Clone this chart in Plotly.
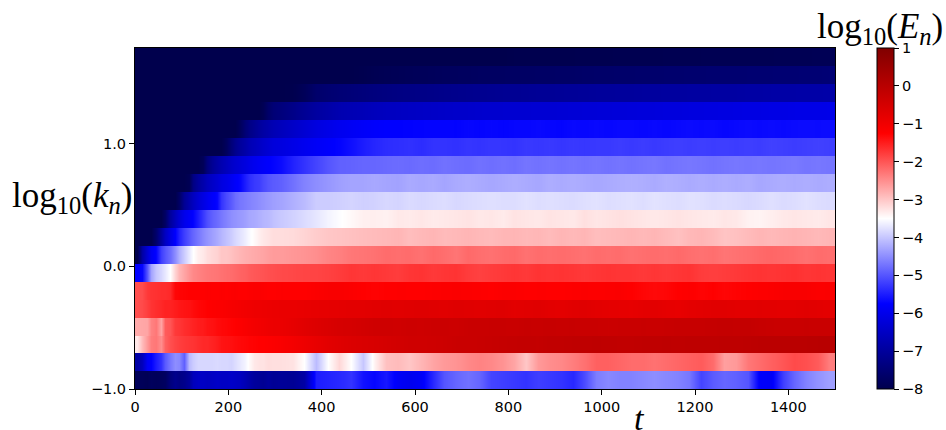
import plotly.graph_objects as go

# column edges in t (read-off resolution: finer during the initial front)
t_edges = [0,10,20,30,40,50,60,70,80,90,100,110,120,130,140,150,160,170,180,190,200,210,220,230,240,250,260,270,280,290,
           300,325,350,375,400,425,450,475,500,525,550,575,600,625,650,675,700,725,750,775,800,825,850,875,900,925,950,975,
           1000,1025,1050,1075,1100,1125,1150,1175,1200,1225,1250,1275,1300,1325,1350,1375,1400,1425,1450,1475,1500]
# shell edges in log10(k_n)
y_edges = [-1.0,-0.8537,-0.7074,-0.5611,-0.4148,-0.2685,-0.1222,0.0241,0.1704,0.3167,0.463,0.6093,0.7556,0.9019,1.0482,1.1945,1.3408,1.4871,1.6334,1.7797]

r0 = [-7.85,-7.85,-7.9,-7.8,-7.85,-7.8,-7.75,-7.4,-7.2,-7.3,-7.2,-7.0,-6.6,-6.5,-6.5,-6.55,-6.5,-6.45,-6.5,-6.5,-6.45,-6.5,-6.55,-6.7,-6.85,-7.0,-7.05,-7.1,-7.0,-7.1,
      -7.05,-7.1,-6.9,-5.5,-5.45,-5.4,-5.3,-5.6,-5.7,-5.55,-5.85,-5.95,-5.85,-5.4,-5.0,-4.85,-4.75,-4.85,-5.15,-5.2,-5.25,-5.3,-5.2,-5.25,-5.3,-5.4,-5.1,-4.65,-4.55,-4.6,
      -4.6,-4.55,-4.5,-4.55,-4.6,-4.7,-5.15,-4.95,-4.85,-4.9,-5.0,-5.8,-5.85,-5.2,-4.85,-4.6,-4.45,-4.35]
r1 = [-6.9,-6.6,-5.9,-5.75,-5.5,-5.3,-4.95,-4.7,-4.5,-4.55,-4.9,-4.1,-3.95,-3.85,-3.85,-3.85,-3.85,-3.83,-3.85,-3.85,-3.88,-3.8,-3.7,-3.6,-3.45,-3.3,-3.25,-3.25,-3.2,-3.22,
      -3.22,-3.25,-3.5,-4.1,-3.5,-3.15,-3.5,-4.0,-3.4,-2.95,-2.9,-3.0,-2.85,-2.7,-2.6,-2.55,-2.45,-2.4,-2.45,-2.55,-2.7,-3.0,-2.6,-2.5,-2.45,-2.35,-2.25,-2.1,-2.1,-2.15,
      -2.2,-2.2,-2.25,-2.2,-2.15,-2.1,-2.05,-2.2,-2.65,-2.6,-2.3,-2.2,-2.1,-2.0,-1.9,-1.95,-2.05,-2.35]
r2 = [-3.3,-2.9,-2.6,-2.35,-2.3,-2.5,-2.1,-1.95,-1.85,-1.8,-1.75,-1.72,-1.7,-1.65,-1.6,-1.6,-1.55,-1.5,-1.42,-1.4,-1.38,-1.35,-1.32,-1.3,-1.28,-1.27,-1.25,-1.25,-1.22,-1.2,
      -1.15,-1.05,-0.95,-0.85,-0.75,-0.68,-0.62,-0.58,-0.55,-0.5,-0.45,-0.4,-0.4,-0.38,-0.35,-0.3,-0.3,-0.28,-0.25,-0.22,-0.2,-0.18,-0.2,-0.15,-0.15,-0.12,-0.12,-0.1,-0.12,-0.15,
      -0.15,-0.12,-0.12,-0.1,-0.12,-0.1,-0.1,-0.1,-0.08,-0.1,-0.08,-0.05,-0.05,-0.03,-0.03,-0.02,0.0,0.0]
r3 = [-2.75,-2.72,-2.7,-2.4,-2.3,-2.7,-2.05,-2.0,-1.75,-1.72,-1.65,-1.6,-1.55,-1.5,-1.48,-1.42,-1.4,-1.35,-1.32,-1.3,-1.27,-1.25,-1.2,-1.15,-1.1,-1.05,-1.02,-1.0,-0.95,-0.92,
      -0.9,-0.82,-0.72,-0.65,-0.58,-0.52,-0.5,-0.45,-0.4,-0.38,-0.4,-0.36,-0.38,-0.35,-0.33,-0.35,-0.3,-0.3,-0.28,-0.28,-0.3,-0.26,-0.28,-0.25,-0.28,-0.26,-0.3,-0.3,-0.32,-0.3,
      -0.3,-0.28,-0.3,-0.28,-0.26,-0.25,-0.26,-0.22,-0.2,-0.22,-0.2,-0.25,-0.28,-0.3,-0.3,-0.28,-0.3,-0.3]
r4 = [-1.95,-1.9,-1.8,-1.7,-1.65,-1.6,-1.55,-1.55,-1.5,-1.45,-1.42,-1.4,-1.35,-1.3,-1.28,-1.25,-1.22,-1.2,-1.18,-1.15,-1.1,-1.08,-1.05,-1.02,-1.0,-0.95,-0.95,-0.93,-0.92,-0.9,
      -0.88,-0.88,-0.85,-0.82,-0.8,-0.78,-0.75,-0.75,-0.72,-0.7,-0.72,-0.7,-0.68,-0.7,-0.72,-0.68,-0.7,-0.72,-0.7,-0.68,-0.75,-0.72,-0.7,-0.75,-0.78,-0.72,-0.7,-0.75,-0.78,-0.8,
      -0.82,-0.78,-0.75,-0.8,-0.85,-0.78,-0.75,-0.72,-0.72,-0.75,-0.75,-0.72,-0.75,-0.78,-0.75,-0.72,-0.75,-0.78]
r5 = [-1.95,-1.92,-1.75,-1.7,-1.68,-1.65,-1.65,-1.6,-1.3,-1.28,-1.27,-1.25,-1.25,-1.25,-1.25,-1.22,-1.25,-1.25,-1.22,-1.25,-1.22,-1.2,-1.25,-1.25,-1.22,-1.2,-1.2,-1.22,-1.25,-1.25,
      -1.22,-1.25,-1.25,-1.2,-1.15,-1.15,-1.2,-1.25,-1.27,-1.25,-1.22,-1.25,-1.25,-1.22,-1.2,-1.18,-1.2,-1.22,-1.25,-1.2,-1.2,-1.25,-1.22,-1.25,-1.25,-1.22,-1.2,-1.22,-1.2,-1.18,
      -1.25,-1.3,-1.33,-1.3,-1.25,-1.22,-1.28,-1.25,-1.3,-1.27,-1.25,-1.22,-1.2,-1.15,-1.15,-1.15,-1.2,-1.18]
r6 = [-5.75,-5.7,-5.0,-4.3,-4.0,-3.85,-3.7,-3.5,-3.1,-2.85,-2.7,-2.55,-2.45,-2.4,-2.35,-2.32,-2.3,-2.28,-2.25,-2.22,-2.2,-2.17,-2.12,-2.1,-2.05,-2.02,-2.0,-1.98,-1.95,-1.93,
      -1.9,-1.88,-1.85,-1.85,-1.82,-1.78,-1.72,-1.75,-1.72,-1.75,-1.78,-1.72,-1.7,-1.75,-1.72,-1.7,-1.78,-1.82,-1.78,-1.75,-1.72,-1.75,-1.7,-1.72,-1.7,-1.72,-1.75,-1.72,-1.7,-1.72,
      -1.72,-1.75,-1.72,-1.75,-1.72,-1.7,-1.78,-1.8,-1.78,-1.75,-1.72,-1.7,-1.72,-1.7,-1.68,-1.72,-1.7,-1.72]
r7 = [-8.0,-6.9,-6.3,-5.9,-5.7,-5.2,-5.0,-4.8,-4.5,-4.2,-3.95,-3.7,-3.5,-3.35,-3.3,-3.2,-3.15,-3.1,-3.0,-3.0,-2.95,-2.9,-2.85,-2.8,-2.78,-2.75,-2.72,-2.7,-2.65,-2.62,
      -2.62,-2.58,-2.55,-2.5,-2.42,-2.38,-2.3,-2.28,-2.25,-2.2,-2.22,-2.2,-2.25,-2.18,-2.22,-2.28,-2.18,-2.22,-2.25,-2.2,-2.18,-2.25,-2.2,-2.22,-2.2,-2.22,-2.25,-2.2,-2.22,-2.2,
      -2.25,-2.22,-2.2,-2.22,-2.18,-2.22,-2.25,-2.22,-2.28,-2.25,-2.22,-2.18,-2.15,-2.18,-2.2,-2.25,-2.2,-2.22]
r8 = [-8.0,-8.0,-8.0,-8.0,-7.6,-7.0,-6.5,-6.1,-5.75,-5.45,-5.2,-5.0,-4.85,-4.7,-4.55,-4.45,-4.35,-4.25,-4.15,-4.05,-3.95,-3.85,-3.75,-3.65,-3.55,-3.45,-3.35,-3.3,-3.25,-3.2,
      -3.2,-3.18,-3.12,-3.05,-3.0,-2.98,-2.95,-2.92,-2.9,-2.88,-2.85,-2.92,-2.88,-2.85,-2.9,-2.88,-2.85,-2.88,-2.9,-2.86,-2.85,-2.88,-2.86,-2.9,-2.85,-2.88,-2.85,-2.92,-2.9,-2.88,
      -2.85,-2.88,-2.85,-2.9,-2.95,-2.88,-2.85,-2.9,-2.98,-2.95,-2.9,-2.85,-2.88,-2.85,-2.83,-2.85,-2.88,-2.85]
r9 = [-8.0,-8.0,-8.0,-8.0,-8.0,-8.0,-7.7,-7.0,-6.6,-6.3,-6.0,-5.85,-5.72,-5.5,-5.25,-5.05,-4.9,-4.8,-4.7,-4.6,-4.5,-4.45,-4.4,-4.35,-4.28,-4.25,-4.2,-4.15,-4.12,-4.05,
      -3.98,-3.9,-3.82,-3.72,-3.6,-3.52,-3.44,-3.36,-3.35,-3.38,-3.3,-3.32,-3.28,-3.32,-3.3,-3.28,-3.25,-3.3,-3.28,-3.32,-3.25,-3.28,-3.3,-3.25,-3.28,-3.3,-3.22,-3.28,-3.25,-3.22,
      -3.25,-3.28,-3.3,-3.28,-3.25,-3.28,-3.3,-3.32,-3.28,-3.3,-3.38,-3.4,-3.35,-3.3,-3.28,-3.3,-3.32,-3.28]
r10 = [-8.0,-8.0,-8.0,-8.0,-8.0,-8.0,-8.0,-8.0,-8.0,-7.7,-7.1,-6.8,-6.55,-6.3,-6.1,-5.95,-5.8,-5.7,-5.3,-5.1,-4.95,-4.8,-4.7,-4.65,-4.6,-4.55,-4.5,-4.45,-4.4,-4.35,
       -4.3,-4.2,-4.1,-3.95,-3.95,-3.92,-3.88,-3.92,-3.9,-3.85,-3.88,-3.82,-3.85,-3.82,-3.8,-3.85,-3.82,-3.8,-3.78,-3.8,-3.8,-3.76,-3.8,-3.78,-3.8,-3.82,-3.78,-3.76,-3.8,-3.78,
       -3.76,-3.8,-3.75,-3.78,-3.8,-3.76,-3.78,-3.82,-3.8,-3.82,-3.85,-3.82,-3.78,-3.82,-3.8,-3.76,-3.8,-3.82]
r11 = [-8.0,-8.0,-8.0,-8.0,-8.0,-8.0,-8.0,-8.0,-8.0,-8.0,-8.0,-7.9,-7.3,-7.0,-6.8,-6.6,-6.45,-6.3,-6.15,-6.05,-5.92,-5.8,-5.7,-5.5,-5.35,-5.25,-5.2,-5.1,-5.0,-4.95,
       -4.9,-4.75,-4.6,-4.5,-4.42,-4.35,-4.3,-4.3,-4.27,-4.3,-4.32,-4.25,-4.28,-4.25,-4.3,-4.25,-4.22,-4.25,-4.28,-4.25,-4.22,-4.25,-4.28,-4.22,-4.25,-4.22,-4.25,-4.28,-4.25,-4.22,
       -4.2,-4.22,-4.25,-4.2,-4.22,-4.25,-4.22,-4.25,-4.22,-4.25,-4.22,-4.28,-4.25,-4.22,-4.25,-4.22,-4.25,-4.22]
r12 = [-8.0,-8.0,-8.0,-8.0,-8.0,-8.0,-8.0,-8.0,-8.0,-8.0,-8.0,-8.0,-8.0,-8.0,-7.85,-7.4,-7.1,-6.9,-6.75,-6.6,-6.45,-6.35,-6.25,-6.15,-6.05,-5.95,-5.88,-5.82,-5.77,-5.72,
       -5.65,-5.45,-5.3,-5.15,-5.0,-4.9,-4.88,-4.85,-4.85,-4.82,-4.8,-4.82,-4.78,-4.8,-4.75,-4.78,-4.8,-4.75,-4.78,-4.75,-4.78,-4.72,-4.75,-4.72,-4.75,-4.72,-4.75,-4.72,-4.75,-4.72,
       -4.75,-4.72,-4.7,-4.75,-4.72,-4.7,-4.72,-4.75,-4.72,-4.7,-4.72,-4.7,-4.72,-4.7,-4.68,-4.72,-4.7,-4.72]
r13 = [-8.0,-8.0,-8.0,-8.0,-8.0,-8.0,-8.0,-8.0,-8.0,-8.0,-8.0,-8.0,-8.0,-8.0,-8.0,-8.0,-8.0,-8.0,-8.0,-7.8,-7.45,-7.2,-7.0,-6.85,-6.7,-6.6,-6.5,-6.4,-6.3,-6.2,
       -6.15,-6.05,-5.95,-5.85,-5.78,-5.72,-5.62,-5.5,-5.42,-5.36,-5.34,-5.32,-5.36,-5.3,-5.3,-5.32,-5.28,-5.3,-5.27,-5.28,-5.3,-5.25,-5.27,-5.25,-5.28,-5.25,-5.27,-5.25,-5.25,-5.22,
       -5.25,-5.22,-5.25,-5.22,-5.2,-5.22,-5.2,-5.22,-5.2,-5.22,-5.2,-5.22,-5.18,-5.2,-5.22,-5.2,-5.18,-5.2]
r14 = [-8.0,-8.0,-8.0,-8.0,-8.0,-8.0,-8.0,-8.0,-8.0,-8.0,-8.0,-8.0,-8.0,-8.0,-8.0,-8.0,-8.0,-8.0,-8.0,-8.0,-8.0,-8.0,-7.8,-7.5,-7.3,-7.15,-7.0,-6.9,-6.8,-6.7,
       -6.6,-6.45,-6.3,-6.15,-6.05,-5.95,-5.88,-5.82,-5.78,-5.75,-5.75,-5.74,-5.73,-5.72,-5.72,-5.73,-5.7,-5.72,-5.7,-5.72,-5.7,-5.7,-5.68,-5.7,-5.72,-5.68,-5.7,-5.68,-5.7,-5.68,
       -5.68,-5.7,-5.68,-5.7,-5.68,-5.66,-5.68,-5.66,-5.7,-5.68,-5.66,-5.68,-5.66,-5.68,-5.66,-5.65,-5.66,-5.65]
r15 = [-8.0,-8.0,-8.0,-8.0,-8.0,-8.0,-8.0,-8.0,-8.0,-8.0,-8.0,-8.0,-8.0,-8.0,-8.0,-8.0,-8.0,-8.0,-8.0,-8.0,-8.0,-8.0,-8.0,-8.0,-8.0,-8.0,-8.0,-7.9,-7.65,-7.5,
       -7.4,-7.25,-7.1,-6.95,-6.85,-6.75,-6.7,-6.65,-6.6,-6.55,-6.52,-6.5,-6.48,-6.46,-6.44,-6.42,-6.4,-6.38,-6.36,-6.35,-6.33,-6.32,-6.3,-6.3,-6.28,-6.27,-6.26,-6.25,-6.24,-6.23,
       -6.22,-6.2,-6.2,-6.18,-6.18,-6.16,-6.15,-6.14,-6.13,-6.12,-6.1,-6.1,-6.08,-6.08,-6.06,-6.05,-6.05,-6.03]
r16 = [-8.0,-8.0,-8.0,-8.0,-8.0,-8.0,-8.0,-8.0,-8.0,-8.0,-8.0,-8.0,-8.0,-8.0,-8.0,-8.0,-8.0,-8.0,-8.0,-8.0,-8.0,-8.0,-8.0,-8.0,-8.0,-8.0,-8.0,-8.0,-8.0,-8.0,
       -8.0,-7.98,-7.85,-7.62,-7.55,-7.5,-7.46,-7.42,-7.38,-7.35,-7.32,-7.3,-7.27,-7.25,-7.22,-7.2,-7.18,-7.16,-7.14,-7.12,-7.12,-7.1,-7.08,-7.08,-7.06,-7.05,-7.04,-7.02,-7.02,-7.0,
       -7.0,-6.98,-6.98,-6.96,-6.96,-6.94,-6.94,-6.93,-6.92,-6.92,-6.9,-6.9,-6.88,-6.88,-6.87,-6.86,-6.86,-6.85]
r17 = [-8.0,-8.0,-8.0,-8.0,-8.0,-8.0,-8.0,-8.0,-8.0,-8.0,-8.0,-8.0,-8.0,-8.0,-8.0,-8.0,-8.0,-8.0,-8.0,-8.0,-8.0,-8.0,-8.0,-8.0,-8.0,-8.0,-8.0,-8.0,-8.0,-8.0,
       -8.0,-8.0,-8.0,-8.0,-8.0,-8.0,-8.0,-7.97,-7.93,-7.9,-7.88,-7.86,-7.84,-7.82,-7.8,-7.78,-7.77,-7.75,-7.74,-7.73,-7.72,-7.71,-7.7,-7.7,-7.68,-7.68,-7.66,-7.65,-7.65,-7.63,
       -7.63,-7.62,-7.61,-7.6,-7.6,-7.58,-7.58,-7.57,-7.56,-7.56,-7.55,-7.54,-7.54,-7.53,-7.53,-7.52,-7.52,-7.5]
r18 = [-8.0,-8.0,-8.0,-8.0,-8.0,-8.0,-8.0,-8.0,-8.0,-8.0,-8.0,-8.0,-8.0,-8.0,-8.0,-8.0,-8.0,-8.0,-8.0,-8.0,-8.0,-8.0,-8.0,-8.0,-8.0,-8.0,-8.0,-8.0,-8.0,-8.0,
       -8.0,-8.0,-8.0,-8.0,-8.0,-8.0,-8.0,-8.0,-8.0,-8.0,-8.0,-8.0,-8.0,-8.0,-8.0,-8.0,-8.0,-8.0,-8.0,-8.0,-7.98,-7.98,-7.98,-7.97,-7.97,-7.97,-7.96,-7.96,-7.96,-7.95,
       -7.95,-7.95,-7.95,-7.94,-7.94,-7.94,-7.93,-7.93,-7.93,-7.92,-7.92,-7.92,-7.92,-7.91,-7.91,-7.91,-7.9,-7.9]

rows = [r0,r1,r2,r3,r4,r5,r6,r7,r8,r9,r10,r11,r12,r13,r14,r15,r16,r17,r18]
for i, r in enumerate(rows):
    assert len(r) == len(t_edges) - 1, (i, len(r))

x_ticks = [0,200,400,600,800,1000,1200,1400]
y_ticks = [-1.0,0.0,1.0]
cbar_ticks = [-8,-7,-6,-5,-4,-3,-2,-1,0,1]

# Smooth along t only: every shell is given twice, just inside its two edges,
# so the interpolation of zsmooth="best" keeps the shells crisp in y.
t_mid = [(a + b) / 2 for a, b in zip(t_edges[:-1], t_edges[1:])]
inset = 0.003
y_pairs, z_pairs = [], []
for lo, hi, r in zip(y_edges[:-1], y_edges[1:], rows):
    y_pairs += [lo + inset, hi - inset]
    z_pairs += [r, r]

seismic = [[0,"rgb(0,0,77)"],[0.25,"rgb(0,0,255)"],[0.5,"rgb(255,255,255)"],[0.75,"rgb(255,0,0)"],[1,"rgb(128,0,0)"]]
tick_font = dict(family="DejaVu Sans", size=14.5, color="black")
math_font = dict(family="Liberation Serif", size=35, color="black")

fig = go.Figure(go.Heatmap(
    x=t_mid, y=y_pairs, z=z_pairs, zmin=-8, zmax=1, colorscale=seismic, zsmooth="best", hoverinfo="skip",
    colorbar=dict(lenmode="pixels", len=341, thicknessmode="pixels", thickness=17,
                  x=1.06, xanchor="left", xpad=0, y=0, yanchor="bottom", ypad=0,
                  outlinecolor="black", outlinewidth=1, tickvals=cbar_ticks,
                  ticks="outside", ticklen=5, tickwidth=1, tickcolor="black", tickfont=tick_font),
))
axis = dict(showgrid=False, zeroline=False, showline=True, linecolor="black", linewidth=1, mirror=True,
            ticks="outside", ticklen=5, tickwidth=1, tickcolor="black", tickfont=tick_font)
fig.update_xaxes(range=[0,1500], tickvals=x_ticks, **axis)
fig.update_yaxes(range=[-1.0,1.7797], tickvals=y_ticks, tickformat=".1f", **axis)
fig.update_layout(
    width=946, height=430, autosize=False, margin=dict(l=135,r=111,t=48,b=41),
    paper_bgcolor="white", plot_bgcolor="white",
    annotations=[
        dict(text="log<sub>10</sub>(<i>k<sub>n</sub></i>)", xref="paper", yref="paper", x=-0.002, y=0.563,
             xanchor="right", yanchor="middle", showarrow=False, font=math_font),
        dict(text="<i>t</i>", xref="paper", yref="paper", x=0.72, y=-0.086,
             xanchor="center", yanchor="middle", showarrow=False, font=dict(family="Liberation Serif", size=34, color="black")),
        dict(text="log<sub>10</sub>(<i>E<sub>n</sub></i>)", xref="paper", yref="paper", x=1.157, y=1.058,
             xanchor="right", yanchor="middle", showarrow=False, font=math_font),
    ],
)
fig.write_html("out.html", config=dict(displayModeBar=False),
               post_script="document.body.style.margin='0';document.documentElement.style.overflow='hidden';")
